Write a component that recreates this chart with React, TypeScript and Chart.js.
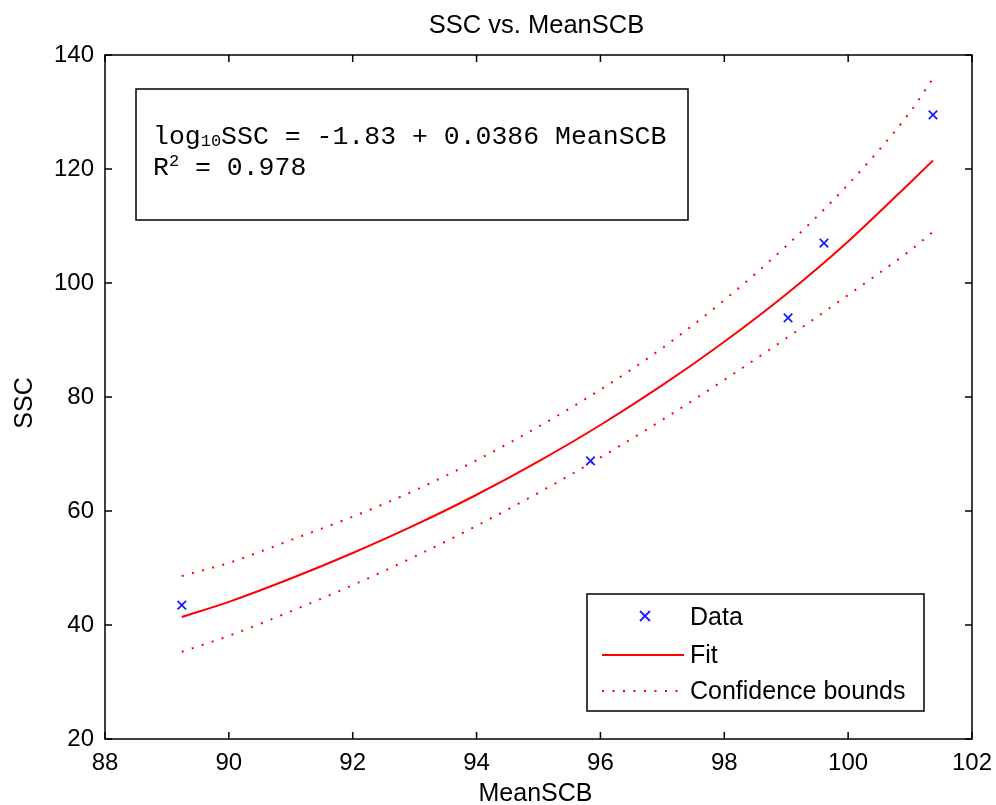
import React, { useEffect, useRef } from "react";
import { Chart, registerables } from "chart.js";

Chart.register(...registerables);

const TITLE = "SSC vs. MeanSCB";
const X_LABEL = "MeanSCB";
const Y_LABEL = "SSC";

const dataX = [89.24, 95.84, 99.03, 99.61, 101.37];
const dataY = [43.5, 68.8, 93.9, 107.0, 129.5];

const curveX = [89.24, 90, 91, 92, 93, 94, 95, 96, 97, 98, 99, 100, 101, 101.37];
const fitY = [41.4, 44.06, 48.15, 52.63, 57.51, 62.85, 68.71, 75.09, 82.07, 89.7, 98.04, 107.3, 117.6, 121.5];
const upperY = [48.6, 50.9, 54.9, 59.0, 63.6, 68.9, 74.8, 81.3, 88.6, 97.0, 106.5, 117.3, 130.0, 135.9];
const lowerY = [35.3, 38.1, 42.4, 47.0, 52.0, 57.4, 63.2, 69.4, 76.0, 83.0, 90.3, 97.9, 105.7, 109.0];

const X_MIN = 88, X_MAX = 102, X_STEP = 2;
const Y_MIN = 20, Y_MAX = 140, Y_STEP = 20;

const LEGEND_LABELS = ["Data", "Fit", "Confidence bounds"];
const EQ_LINE1 = { pre: "log", sub: "10", post: "SSC = -1.83 + 0.0386 MeanSCB" };
const EQ_LINE2 = { pre: "R", sup: "2", post: " = 0.978" };

const SANS = "'Liberation Sans', Arial, sans-serif";
const MONO = "'Liberation Mono', 'Courier New', monospace";
const BLUE = "#1a1aff";
const RED = "#ff0000";

function toPts(xs: number[], ys: number[]) {
  return xs.map((x, i) => ({ x, y: ys[i] }));
}

function drawCross(ctx: CanvasRenderingContext2D, x: number, y: number, r: number) {
  ctx.beginPath();
  ctx.moveTo(x - r, y - r);
  ctx.lineTo(x + r, y + r);
  ctx.moveTo(x - r, y + r);
  ctx.lineTo(x + r, y - r);
  ctx.stroke();
}

const decorPlugin = {
  id: "decor",
  afterDraw(chart: any) {
    const ctx: CanvasRenderingContext2D = chart.ctx;
    const a = chart.chartArea;
    const xs = chart.scales.x;
    const ys = chart.scales.y;
    ctx.save();
    ctx.strokeStyle = "#000";
    ctx.lineWidth = 1.5;
    ctx.strokeRect(a.left, a.top, a.right - a.left, a.bottom - a.top);
    const tl = 7;
    ctx.beginPath();
    xs.ticks.forEach((t: any) => {
      const px = xs.getPixelForValue(t.value);
      ctx.moveTo(px, a.bottom);
      ctx.lineTo(px, a.bottom - tl);
      ctx.moveTo(px, a.top);
      ctx.lineTo(px, a.top + tl);
    });
    ys.ticks.forEach((t: any) => {
      const py = ys.getPixelForValue(t.value);
      ctx.moveTo(a.left, py);
      ctx.lineTo(a.left + tl, py);
      ctx.moveTo(a.right, py);
      ctx.lineTo(a.right - tl, py);
    });
    ctx.stroke();

    ctx.fillStyle = "#000";
    ctx.font = `25.5px ${SANS}`;
    ctx.textAlign = "center";
    ctx.textBaseline = "middle";
    const cx = (a.left + a.right) / 2;
    ctx.fillText(TITLE, cx - 2, a.top - 29);
    ctx.font = `25px ${SANS}`;
    ctx.fillText(X_LABEL, cx - 3, a.bottom + 55);
    ctx.save();
    ctx.translate(25, (a.top + a.bottom) / 2 + 6);
    ctx.rotate(-Math.PI / 2);
    ctx.fillText(Y_LABEL, 0, 0);
    ctx.restore();

    const bx = 136, by = a.top + 34, bw = 552, bh = 131;
    ctx.fillStyle = "#fff";
    ctx.fillRect(bx, by, bw, bh);
    ctx.strokeStyle = "#000";
    ctx.lineWidth = 1.5;
    ctx.strokeRect(bx, by, bw, bh);
    ctx.fillStyle = "#000";
    ctx.textAlign = "left";
    ctx.textBaseline = "alphabetic";
    let tx = bx + 17;
    const base1 = by + 55;
    ctx.font = `26.5px ${MONO}`;
    ctx.fillText(EQ_LINE1.pre, tx, base1);
    tx += ctx.measureText(EQ_LINE1.pre).width;
    ctx.font = `17px ${MONO}`;
    ctx.fillText(EQ_LINE1.sub, tx, base1 + 2);
    tx += ctx.measureText(EQ_LINE1.sub).width;
    ctx.font = `26.5px ${MONO}`;
    ctx.fillText(EQ_LINE1.post, tx, base1);
    tx = bx + 17;
    const base2 = base1 + 31;
    ctx.fillText(EQ_LINE2.pre, tx, base2);
    tx += ctx.measureText(EQ_LINE2.pre).width;
    ctx.font = `17px ${MONO}`;
    ctx.fillText(EQ_LINE2.sup, tx, base2 - 9);
    tx += ctx.measureText(EQ_LINE2.sup).width;
    ctx.font = `26.5px ${MONO}`;
    ctx.fillText(EQ_LINE2.post, tx, base2);

    const lx = 587, ly = a.top + 539, lw = 337, lh = 117;
    ctx.fillStyle = "#fff";
    ctx.fillRect(lx, ly, lw, lh);
    ctx.strokeStyle = "#000";
    ctx.lineWidth = 1.5;
    ctx.strokeRect(lx, ly, lw, lh);
    const rowY = [ly + 23, ly + 61, ly + 97];
    const sx0 = lx + 15, sx1 = lx + 97;
    ctx.strokeStyle = BLUE;
    ctx.lineWidth = 1.8;
    drawCross(ctx, (sx0 + sx1) / 2 + 2, rowY[0] - 1, 5);
    ctx.strokeStyle = RED;
    ctx.lineWidth = 2;
    ctx.beginPath();
    ctx.moveTo(sx0, rowY[1]);
    ctx.lineTo(sx1, rowY[1]);
    ctx.stroke();
    ctx.setLineDash([2, 8.5]);
    ctx.beginPath();
    ctx.moveTo(sx0, rowY[2]);
    ctx.lineTo(sx1, rowY[2]);
    ctx.stroke();
    ctx.setLineDash([]);
    ctx.fillStyle = "#000";
    ctx.font = `25px ${SANS}`;
    ctx.textBaseline = "middle";
    LEGEND_LABELS.forEach((lab, i) => ctx.fillText(lab, lx + 103, rowY[i] + 1));
    ctx.restore();
  },
};

export default function App() {
  const ref = useRef<HTMLCanvasElement | null>(null);
  useEffect(() => {
    if (!ref.current) return;
    const boundStyle = {
      showLine: true,
      borderColor: RED,
      backgroundColor: RED,
      borderWidth: 2,
      borderDash: [2, 8.5],
      pointRadius: 0,
      fill: false,
      cubicInterpolationMode: "monotone" as const,
    };
    const chart = new Chart(ref.current, {
      type: "scatter",
      data: {
        datasets: [
          {
            label: "Data",
            data: toPts(dataX, dataY),
            pointStyle: "crossRot",
            pointRadius: 6,
            borderColor: BLUE,
            backgroundColor: BLUE,
            pointBorderWidth: 1.8,
            showLine: false,
          },
          {
            label: "Fit",
            data: toPts(curveX, fitY),
            showLine: true,
            borderColor: RED,
            backgroundColor: RED,
            borderWidth: 2,
            pointRadius: 0,
            cubicInterpolationMode: "monotone",
          },
          { label: "Upper", data: toPts(curveX, upperY), ...boundStyle },
          { label: "Lower", data: toPts(curveX, lowerY), ...boundStyle },
        ],
      },
      options: {
        animation: false,
        responsive: true,
        maintainAspectRatio: false,
        layout: { padding: { top: 55, right: 24, left: 0, bottom: 0 } },
        plugins: { legend: { display: false }, title: { display: false }, tooltip: { enabled: false } },
        scales: {
          x: {
            type: "linear",
            min: X_MIN,
            max: X_MAX,
            grid: { display: false, drawTicks: false },
            border: { display: false },
            ticks: { stepSize: X_STEP, padding: 10, color: "#000", font: { family: SANS, size: 24 }, maxRotation: 0 },
            afterFit: (s: any) => { s.height = 66; s.paddingLeft = 0; s.paddingRight = 0; },
          },
          y: {
            type: "linear",
            min: Y_MIN,
            max: Y_MAX,
            grid: { display: false, drawTicks: false },
            border: { display: false },
            ticks: { stepSize: Y_STEP, padding: 11, color: "#000", font: { family: SANS, size: 24 } },
            afterFit: (s: any) => { s.width = 105; s.paddingTop = 0; s.paddingBottom = 0; },
          },
        },
      },
      plugins: [decorPlugin],
    });
    return () => chart.destroy();
  }, []);
  return (
    <div style={{ position: "absolute", left: 0, top: 0, width: 996, height: 805, background: "#fff" }}>
      <canvas ref={ref} />
    </div>
  );
}
